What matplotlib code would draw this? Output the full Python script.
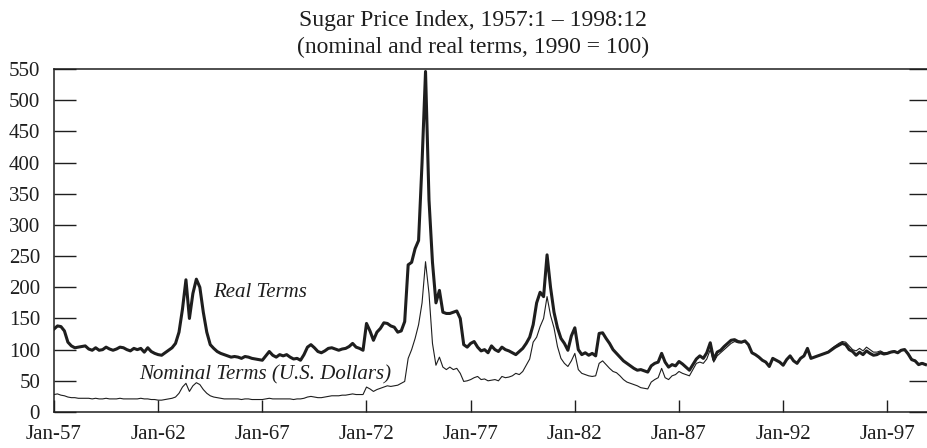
import matplotlib
matplotlib.use("Agg")
import matplotlib.pyplot as plt
import numpy as np

plt.rcParams['font.family'] = ['Liberation Serif', 'DejaVu Serif']

# bimonthly readings (Jan, Mar, May, Jul, Sep, Nov), 1957-1998
years = list(range(1957, 1999))
months = [1, 3, 5, 7, 9, 11]

real_terms = [
    133, 138, 137, 130, 112, 106,   # 1957
    103, 104, 105, 106, 101, 99,    # 1958
    103, 99, 100, 104, 101, 99,     # 1959
    101, 104, 103, 100, 98, 102,    # 1960
    100, 102, 96, 103, 97, 94,      # 1961
    92, 91, 95, 99, 103, 110,       # 1962
    128, 165, 212, 150, 190, 213,   # 1963
    200, 160, 128, 108, 102, 97,    # 1964
    94, 92, 90, 88, 89, 88,         # 1965
    86, 89, 88, 86, 85, 84,         # 1966
    83, 90, 97, 91, 88, 92,         # 1967
    90, 92, 88, 85, 86, 83,         # 1968
    92, 104, 108, 103, 97, 95,      # 1969
    98, 102, 103, 101, 99, 101,     # 1970
    102, 105, 110, 104, 102, 99,    # 1971
    142, 130, 115, 128, 134, 143,   # 1972
    142, 138, 136, 128, 130, 145,   # 1973
    236, 240, 262, 275, 400, 546,   # 1974
    340, 240, 175, 195, 160, 158,   # 1975
    158, 160, 162, 150, 108, 104,   # 1976
    110, 113, 104, 98, 100, 95,     # 1977
    106, 100, 97, 104, 100, 98,     # 1978
    95, 92, 97, 102, 110, 120,      # 1979
    140, 175, 192, 185, 252, 200,   # 1980
    160, 135, 118, 110, 99, 122,    # 1981
    135, 100, 92, 95, 91, 94,       # 1982
    90, 126, 127, 118, 110, 100,    # 1983
    94, 88, 82, 78, 74, 70,         # 1984
    67, 68, 66, 64, 74, 78,         # 1985
    80, 94, 80, 72, 76, 74,         # 1986
    81, 77, 72, 67, 76, 85,         # 1987
    90, 86, 95, 111, 84, 96,        # 1988
    99, 105, 110, 115, 116, 113,    # 1989
    112, 114, 108, 95, 92, 88,      # 1990
    83, 80, 73, 86, 83, 80,         # 1991
    75, 84, 90, 82, 78, 86,         # 1992
    90, 102, 86, 88, 90, 92,        # 1993
    94, 96, 100, 104, 107, 110,     # 1994
    108, 100, 97, 91, 96, 92,       # 1995
    98, 94, 91, 92, 95, 93,         # 1996
    94, 96, 97, 95, 99, 100,        # 1997
    93, 84, 82, 76, 78, 76,         # 1998
]

nominal_terms = [
    28, 29, 27, 26, 24, 23,         # 1957
    23, 22, 22, 22, 22, 21,         # 1958
    22, 21, 21, 22, 21, 21,         # 1959
    21, 22, 21, 21, 21, 21,         # 1960
    21, 22, 21, 21, 20, 20,         # 1961
    19, 19, 20, 21, 22, 24,         # 1962
    30, 40, 46, 33, 42, 47,         # 1963
    44, 36, 30, 26, 24, 23,         # 1964
    22, 21, 21, 21, 21, 21,         # 1965
    20, 21, 21, 20, 20, 20,         # 1966
    20, 21, 22, 21, 21, 21,         # 1967
    21, 21, 21, 20, 21, 21,         # 1968
    22, 24, 25, 24, 23, 23,         # 1969
    24, 25, 26, 26, 26, 27,         # 1970
    27, 28, 29, 28, 28, 28,         # 1971
    40, 37, 33, 36, 38, 40,         # 1972
    42, 41, 42, 43, 46, 49,         # 1973
    86, 100, 118, 140, 175, 241,    # 1974
    190, 110, 75, 88, 72, 68,       # 1975
    72, 68, 70, 62, 49, 50,         # 1976
    52, 55, 57, 52, 53, 50,         # 1977
    51, 52, 50, 57, 55, 56,         # 1978
    58, 62, 60, 65, 75, 85,         # 1979
    112, 120, 137, 150, 185, 155,   # 1980
    135, 105, 86, 78, 73, 82,       # 1981
    94, 68, 62, 60, 58, 57,         # 1982
    58, 78, 82, 76, 70, 65,         # 1983
    63, 58, 52, 48, 46, 44,         # 1984
    42, 39, 38, 37, 48, 52,         # 1985
    55, 70, 55, 52, 58, 60,         # 1986
    65, 62, 60, 58, 68, 78,         # 1987
    80, 78, 85, 100, 80, 90,        # 1988
    95, 100, 105, 110, 113, 111,    # 1989
    111, 113, 108, 95, 92, 88,      # 1990
    83, 80, 73, 86, 83, 80,         # 1991
    75, 84, 90, 82, 78, 86,         # 1992
    90, 102, 86, 88, 90, 92,        # 1993
    94, 97, 102, 106, 110, 113,     # 1994
    112, 106, 100, 98, 102, 98,     # 1995
    104, 100, 96, 96, 98, 95,       # 1996
    95, 97, 98, 96, 100, 101,       # 1997
    94, 85, 83, 77, 79, 77,         # 1998
]

tick_years = [1957, 1962, 1967, 1972, 1977, 1982, 1987, 1992, 1997]
tick_labels = ['Jan-57', 'Jan-62', 'Jan-67', 'Jan-72', 'Jan-77',
               'Jan-82', 'Jan-87', 'Jan-92', 'Jan-97']

dates = np.array([y + (m - 1) / 12 for y in years for m in months])

ink = '#1e1e1e'
fig = plt.figure(figsize=(9.27, 4.48), dpi=100)
ax = fig.add_axes([54 / 927, 36 / 448, 875 / 927, 343 / 448])

ax.plot(dates, nominal_terms, color=ink, lw=0.8)
ax.plot(dates, real_terms, color=ink, lw=2.2)

ax.set_xlim(1957, 1999)
ax.set_ylim(0, 550)

ax.spines['right'].set_visible(False)
for s in ['left', 'bottom', 'top']:
    ax.spines[s].set_linewidth(1.1)
    ax.spines[s].set_color(ink)

ax.set_yticks(range(0, 551, 50))
ax.set_xticks(tick_years)
ax.set_xticklabels(tick_labels)
ax.tick_params(axis='y', direction='in', length=16, width=1.0, color=ink,
               labelsize=15, labelcolor=ink, pad=10, right=True)
ax.tick_params(axis='y', which='major', length=16)
ax.tick_params(axis='x', direction='in', length=8.6, width=1.0, color=ink,
               labelsize=15, labelcolor=ink, pad=9)
for t in ax.yaxis.get_major_ticks():
    t.tick2line.set_markersize(14.4)

ax.text(1964.62, 184, 'Real Terms', fontsize=15, style='italic',
        color=ink, va='baseline')
ax.text(1961.09, 52, 'Nominal Terms (U.S. Dollars)', fontsize=15,
        style='italic', color=ink, va='baseline')

fig.text(473 / 927, 1 - 26 / 448, 'Sugar Price Index, 1957:1 \u2013 1998:12',
         ha='center', va='baseline', fontsize=17, color=ink)
fig.text(473 / 927, 1 - 53 / 448, '(nominal and real terms, 1990 = 100)',
         ha='center', va='baseline', fontsize=17, color=ink)

fig.savefig('out.png', dpi=100)
